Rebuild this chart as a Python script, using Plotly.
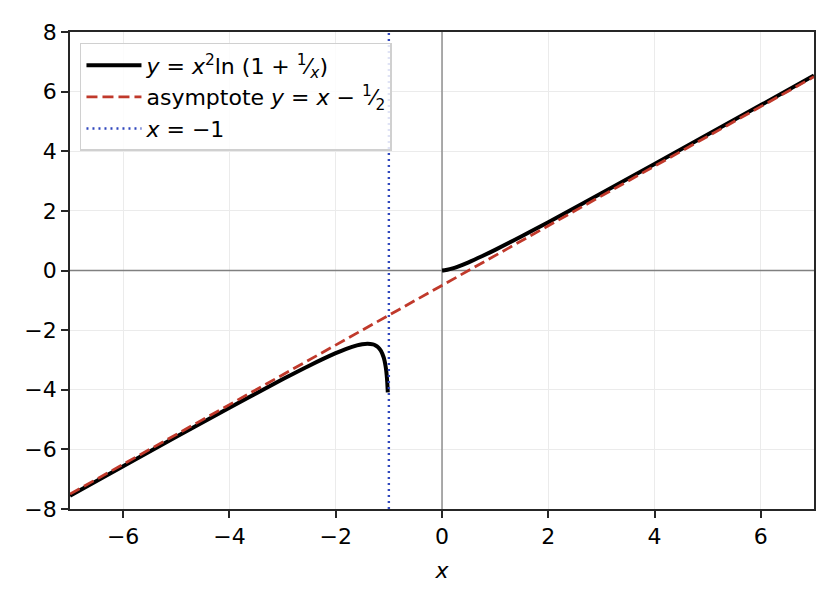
import plotly.graph_objects as go

# left branch of y = x^2 ln(1 + 1/x), x < -1
x_left = [-7, -6, -5, -4, -3.5, -3, -2.5, -2, -1.8, -1.6, -1.5, -1.4, -1.3, -1.25,
          -1.2, -1.15, -1.1, -1.08, -1.06, -1.05, -1.04, -1.03, -1.02]
y_left = [-7.553, -6.564, -5.579, -4.603, -4.122, -3.649, -3.193, -2.773, -2.627, -2.511,
          -2.472, -2.455, -2.478, -2.515, -2.580, -2.694, -2.902, -3.036, -3.227, -3.357,
          -3.524, -3.752, -4.091]

# right branch, x > 0
x_right = [0.001, 0.05, 0.1, 0.2, 0.3, 0.5, 0.75, 1, 1.5, 2, 3, 4, 5, 6, 7]
y_right = [0.0, 0.0076, 0.024, 0.072, 0.132, 0.275, 0.477, 0.693, 1.149, 1.622,
           2.589, 3.570, 4.558, 5.549, 6.543]

# asymptote y = x - 1/2
x_asym = [-7, 7]
y_asym = [-7.5, 6.5]

# vertical line x = -1
x_vert = [-1, -1]
y_vert = [-8, 8]

x_ticks = [-6, -4, -2, 0, 2, 4, 6]
y_ticks = [-8, -6, -4, -2, 0, 2, 4, 6, 8]

fig = go.Figure()

# reference axes through the origin
fig.add_trace(go.Scatter(x=[-7, 7], y=[0, 0], mode="lines",
                         line=dict(color="#808080", width=1.3), showlegend=False, hoverinfo="skip"))
fig.add_trace(go.Scatter(x=[0, 0], y=[-8, 8], mode="lines",
                         line=dict(color="#808080", width=1.3), showlegend=False, hoverinfo="skip"))

fig.add_trace(go.Scatter(x=x_left, y=y_left, mode="lines", line_shape="spline",
                         line=dict(color="black", width=4),
                         name="<i>y</i> = <i>x</i><sup>2</sup>ln (1 + <sup>1</sup>⁄<sub><i>x</i></sub>)",
                         legendgroup="f"))
fig.add_trace(go.Scatter(x=x_right, y=y_right, mode="lines", line_shape="spline",
                         line=dict(color="black", width=4), showlegend=False, legendgroup="f"))
fig.add_trace(go.Scatter(x=x_asym, y=y_asym, mode="lines",
                         line=dict(color="#c0392b", width=2.8, dash="11px,5px"),
                         name="asymptote <i>y</i> = <i>x</i> − <sup>1</sup>⁄<sub>2</sub>"))
fig.add_trace(go.Scatter(x=x_vert, y=y_vert, mode="lines",
                         line=dict(color="#3047bd", width=2.4, dash="2px,4px"),
                         name="<i>x</i> = −1"))

axis_common = dict(
    showline=True, linecolor="#262626", linewidth=1.6, mirror=True,
    ticks="outside", ticklen=7, tickwidth=1.6, tickcolor="#262626",
    showgrid=True, gridcolor="#ebebeb", gridwidth=1, zeroline=False,
    tickfont=dict(size=22, color="black"),
)

fig.update_xaxes(range=[-7, 7], tickvals=x_ticks,
                 ticktext=[str(v).replace("-", "−") for v in x_ticks],
                 title=dict(text="<i>x</i>", font=dict(size=22, color="black"), standoff=14),
                 **axis_common)
fig.update_yaxes(range=[-8, 8], tickvals=y_ticks,
                 ticktext=[str(v).replace("-", "−") for v in y_ticks],
                 **axis_common)

# the page offsets the plot by 8px, so margins are shifted to compensate
fig.update_layout(
    width=828, height=602,
    margin=dict(l=62, r=22, t=17, b=101),
    plot_bgcolor="white", paper_bgcolor="white",
    font=dict(family="DejaVu Sans", color="black"),
    legend=dict(x=0.0134, y=0.977, xanchor="left", yanchor="top",
                bgcolor="rgba(255,255,255,0.85)", bordercolor="#d0d0d0", borderwidth=1.5,
                font=dict(size=22), tracegroupgap=0, itemwidth=55),
)

fig.write_html("out.html")
